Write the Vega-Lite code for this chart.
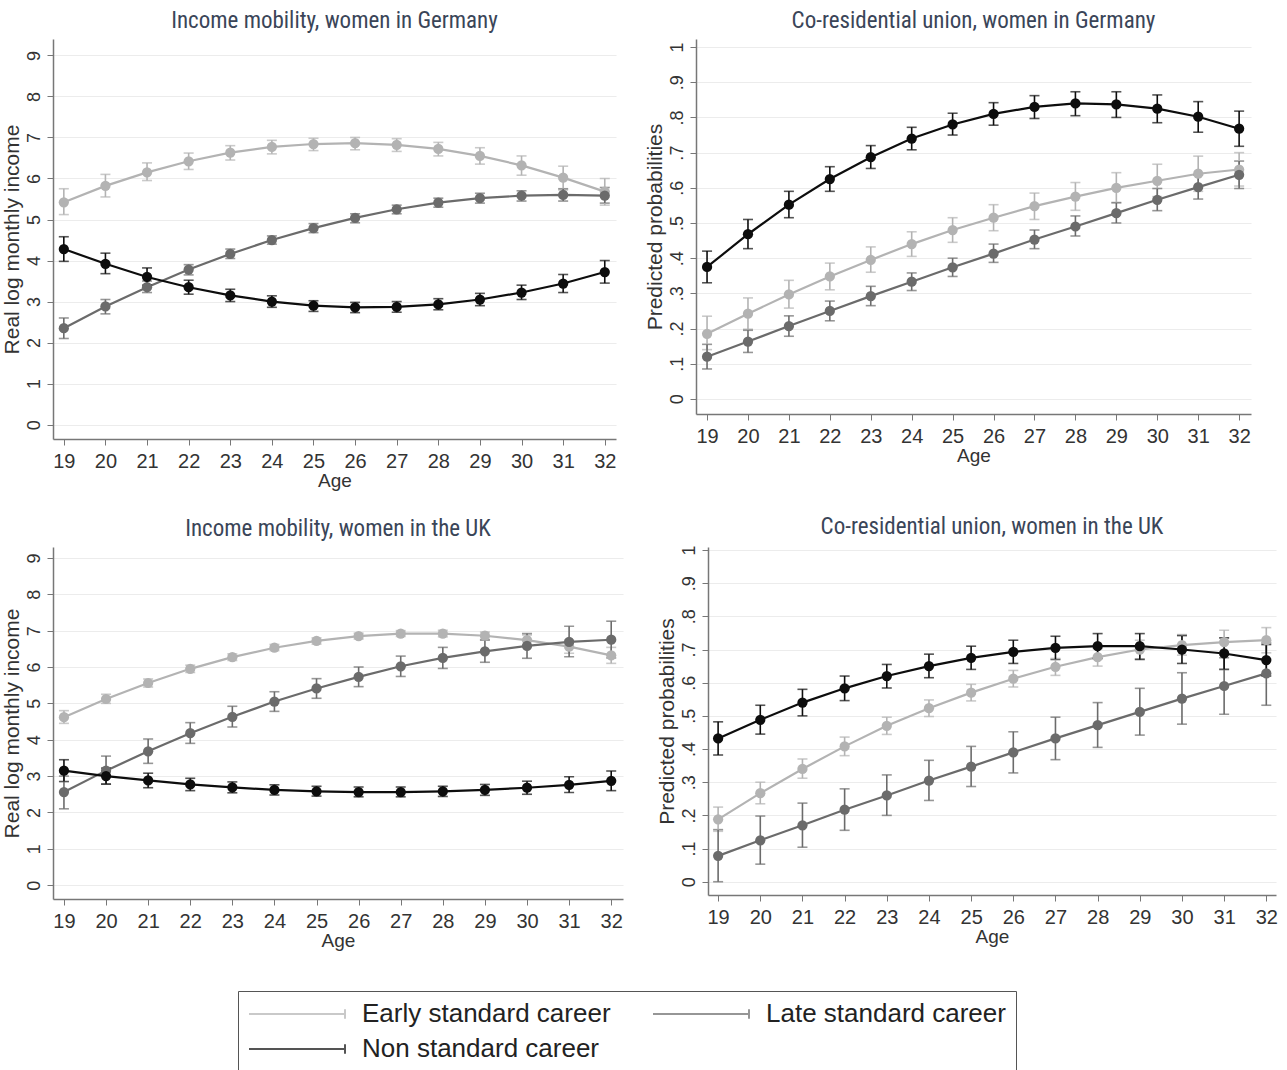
{
  "$schema": "https://vega.github.io/schema/vega-lite/v6.json",
  "padding": {"left": 0, "top": 10, "right": 4, "bottom": 0},
  "background": "white",
  "datasets": {
    "d": [
      {"panel":"GI","career":"Early standard career","age":19,"est":5.42,"lo":5.12,"hi":5.75},
      {"panel":"GI","career":"Early standard career","age":20,"est":5.82,"lo":5.55,"hi":6.1},
      {"panel":"GI","career":"Early standard career","age":21,"est":6.15,"lo":5.95,"hi":6.38},
      {"panel":"GI","career":"Early standard career","age":22,"est":6.42,"lo":6.22,"hi":6.62},
      {"panel":"GI","career":"Early standard career","age":23,"est":6.63,"lo":6.45,"hi":6.8},
      {"panel":"GI","career":"Early standard career","age":24,"est":6.77,"lo":6.6,"hi":6.93},
      {"panel":"GI","career":"Early standard career","age":25,"est":6.84,"lo":6.68,"hi":6.98},
      {"panel":"GI","career":"Early standard career","age":26,"est":6.86,"lo":6.7,"hi":7.0},
      {"panel":"GI","career":"Early standard career","age":27,"est":6.82,"lo":6.66,"hi":6.97},
      {"panel":"GI","career":"Early standard career","age":28,"est":6.72,"lo":6.55,"hi":6.88},
      {"panel":"GI","career":"Early standard career","age":29,"est":6.55,"lo":6.35,"hi":6.75},
      {"panel":"GI","career":"Early standard career","age":30,"est":6.32,"lo":6.08,"hi":6.55},
      {"panel":"GI","career":"Early standard career","age":31,"est":6.02,"lo":5.72,"hi":6.3},
      {"panel":"GI","career":"Early standard career","age":32,"est":5.68,"lo":5.35,"hi":6.0},
      {"panel":"GI","career":"Late standard career","age":19,"est":2.35,"lo":2.1,"hi":2.6},
      {"panel":"GI","career":"Late standard career","age":20,"est":2.88,"lo":2.7,"hi":3.05},
      {"panel":"GI","career":"Late standard career","age":21,"est":3.35,"lo":3.22,"hi":3.5},
      {"panel":"GI","career":"Late standard career","age":22,"est":3.78,"lo":3.65,"hi":3.9},
      {"panel":"GI","career":"Late standard career","age":23,"est":4.16,"lo":4.05,"hi":4.28},
      {"panel":"GI","career":"Late standard career","age":24,"est":4.5,"lo":4.4,"hi":4.6},
      {"panel":"GI","career":"Late standard career","age":25,"est":4.79,"lo":4.68,"hi":4.9},
      {"panel":"GI","career":"Late standard career","age":26,"est":5.04,"lo":4.92,"hi":5.14},
      {"panel":"GI","career":"Late standard career","age":27,"est":5.25,"lo":5.14,"hi":5.35},
      {"panel":"GI","career":"Late standard career","age":28,"est":5.41,"lo":5.3,"hi":5.52},
      {"panel":"GI","career":"Late standard career","age":29,"est":5.52,"lo":5.4,"hi":5.64},
      {"panel":"GI","career":"Late standard career","age":30,"est":5.58,"lo":5.45,"hi":5.7},
      {"panel":"GI","career":"Late standard career","age":31,"est":5.6,"lo":5.45,"hi":5.75},
      {"panel":"GI","career":"Late standard career","age":32,"est":5.58,"lo":5.4,"hi":5.78},
      {"panel":"GI","career":"Non standard career","age":19,"est":4.28,"lo":3.98,"hi":4.58},
      {"panel":"GI","career":"Non standard career","age":20,"est":3.92,"lo":3.68,"hi":4.18},
      {"panel":"GI","career":"Non standard career","age":21,"est":3.6,"lo":3.4,"hi":3.82},
      {"panel":"GI","career":"Non standard career","age":22,"est":3.35,"lo":3.18,"hi":3.52},
      {"panel":"GI","career":"Non standard career","age":23,"est":3.15,"lo":3.0,"hi":3.3},
      {"panel":"GI","career":"Non standard career","age":24,"est":3.0,"lo":2.86,"hi":3.14},
      {"panel":"GI","career":"Non standard career","age":25,"est":2.9,"lo":2.76,"hi":3.02},
      {"panel":"GI","career":"Non standard career","age":26,"est":2.86,"lo":2.73,"hi":2.98},
      {"panel":"GI","career":"Non standard career","age":27,"est":2.87,"lo":2.74,"hi":3.0},
      {"panel":"GI","career":"Non standard career","age":28,"est":2.93,"lo":2.8,"hi":3.07},
      {"panel":"GI","career":"Non standard career","age":29,"est":3.05,"lo":2.9,"hi":3.2},
      {"panel":"GI","career":"Non standard career","age":30,"est":3.22,"lo":3.05,"hi":3.4},
      {"panel":"GI","career":"Non standard career","age":31,"est":3.44,"lo":3.22,"hi":3.66},
      {"panel":"GI","career":"Non standard career","age":32,"est":3.72,"lo":3.45,"hi":4.0},

      {"panel":"GU","career":"Early standard career","age":19,"est":0.185,"lo":0.14,"hi":0.235},
      {"panel":"GU","career":"Early standard career","age":20,"est":0.242,"lo":0.198,"hi":0.287},
      {"panel":"GU","career":"Early standard career","age":21,"est":0.297,"lo":0.258,"hi":0.337},
      {"panel":"GU","career":"Early standard career","age":22,"est":0.348,"lo":0.31,"hi":0.386},
      {"panel":"GU","career":"Early standard career","age":23,"est":0.395,"lo":0.36,"hi":0.432},
      {"panel":"GU","career":"Early standard career","age":24,"est":0.44,"lo":0.405,"hi":0.475},
      {"panel":"GU","career":"Early standard career","age":25,"est":0.48,"lo":0.445,"hi":0.515},
      {"panel":"GU","career":"Early standard career","age":26,"est":0.515,"lo":0.478,"hi":0.552},
      {"panel":"GU","career":"Early standard career","age":27,"est":0.548,"lo":0.51,"hi":0.585},
      {"panel":"GU","career":"Early standard career","age":28,"est":0.575,"lo":0.536,"hi":0.615},
      {"panel":"GU","career":"Early standard career","age":29,"est":0.6,"lo":0.557,"hi":0.643},
      {"panel":"GU","career":"Early standard career","age":30,"est":0.62,"lo":0.575,"hi":0.667},
      {"panel":"GU","career":"Early standard career","age":31,"est":0.64,"lo":0.59,"hi":0.69},
      {"panel":"GU","career":"Early standard career","age":32,"est":0.652,"lo":0.605,"hi":0.7},
      {"panel":"GU","career":"Late standard career","age":19,"est":0.12,"lo":0.085,"hi":0.155},
      {"panel":"GU","career":"Late standard career","age":20,"est":0.163,"lo":0.132,"hi":0.195},
      {"panel":"GU","career":"Late standard career","age":21,"est":0.207,"lo":0.178,"hi":0.236},
      {"panel":"GU","career":"Late standard career","age":22,"est":0.25,"lo":0.222,"hi":0.278},
      {"panel":"GU","career":"Late standard career","age":23,"est":0.292,"lo":0.265,"hi":0.32},
      {"panel":"GU","career":"Late standard career","age":24,"est":0.333,"lo":0.308,"hi":0.358},
      {"panel":"GU","career":"Late standard career","age":25,"est":0.374,"lo":0.348,"hi":0.4},
      {"panel":"GU","career":"Late standard career","age":26,"est":0.413,"lo":0.388,"hi":0.44},
      {"panel":"GU","career":"Late standard career","age":27,"est":0.453,"lo":0.427,"hi":0.48},
      {"panel":"GU","career":"Late standard career","age":28,"est":0.49,"lo":0.463,"hi":0.52},
      {"panel":"GU","career":"Late standard career","age":29,"est":0.528,"lo":0.5,"hi":0.558},
      {"panel":"GU","career":"Late standard career","age":30,"est":0.566,"lo":0.535,"hi":0.598},
      {"panel":"GU","career":"Late standard career","age":31,"est":0.602,"lo":0.568,"hi":0.637},
      {"panel":"GU","career":"Late standard career","age":32,"est":0.637,"lo":0.598,"hi":0.676},
      {"panel":"GU","career":"Non standard career","age":19,"est":0.375,"lo":0.33,"hi":0.42},
      {"panel":"GU","career":"Non standard career","age":20,"est":0.468,"lo":0.427,"hi":0.51},
      {"panel":"GU","career":"Non standard career","age":21,"est":0.552,"lo":0.515,"hi":0.59},
      {"panel":"GU","career":"Non standard career","age":22,"est":0.625,"lo":0.59,"hi":0.66},
      {"panel":"GU","career":"Non standard career","age":23,"est":0.687,"lo":0.655,"hi":0.72},
      {"panel":"GU","career":"Non standard career","age":24,"est":0.74,"lo":0.708,"hi":0.772},
      {"panel":"GU","career":"Non standard career","age":25,"est":0.78,"lo":0.75,"hi":0.812},
      {"panel":"GU","career":"Non standard career","age":26,"est":0.81,"lo":0.778,"hi":0.842},
      {"panel":"GU","career":"Non standard career","age":27,"est":0.83,"lo":0.797,"hi":0.862},
      {"panel":"GU","career":"Non standard career","age":28,"est":0.84,"lo":0.805,"hi":0.873},
      {"panel":"GU","career":"Non standard career","age":29,"est":0.837,"lo":0.8,"hi":0.873},
      {"panel":"GU","career":"Non standard career","age":30,"est":0.825,"lo":0.785,"hi":0.864},
      {"panel":"GU","career":"Non standard career","age":31,"est":0.802,"lo":0.758,"hi":0.845},
      {"panel":"GU","career":"Non standard career","age":32,"est":0.768,"lo":0.718,"hi":0.818},

      {"panel":"KI","career":"Early standard career","age":19,"est":4.62,"lo":4.45,"hi":4.8},
      {"panel":"KI","career":"Early standard career","age":20,"est":5.12,"lo":5.0,"hi":5.25},
      {"panel":"KI","career":"Early standard career","age":21,"est":5.56,"lo":5.45,"hi":5.67},
      {"panel":"KI","career":"Early standard career","age":22,"est":5.95,"lo":5.85,"hi":6.05},
      {"panel":"KI","career":"Early standard career","age":23,"est":6.27,"lo":6.18,"hi":6.36},
      {"panel":"KI","career":"Early standard career","age":24,"est":6.53,"lo":6.45,"hi":6.62},
      {"panel":"KI","career":"Early standard career","age":25,"est":6.72,"lo":6.63,"hi":6.8},
      {"panel":"KI","career":"Early standard career","age":26,"est":6.85,"lo":6.77,"hi":6.93},
      {"panel":"KI","career":"Early standard career","age":27,"est":6.92,"lo":6.84,"hi":7.0},
      {"panel":"KI","career":"Early standard career","age":28,"est":6.92,"lo":6.83,"hi":7.01},
      {"panel":"KI","career":"Early standard career","age":29,"est":6.86,"lo":6.76,"hi":6.96},
      {"panel":"KI","career":"Early standard career","age":30,"est":6.74,"lo":6.6,"hi":6.88},
      {"panel":"KI","career":"Early standard career","age":31,"est":6.56,"lo":6.38,"hi":6.74},
      {"panel":"KI","career":"Early standard career","age":32,"est":6.32,"lo":6.1,"hi":6.54},
      {"panel":"KI","career":"Late standard career","age":19,"est":2.56,"lo":2.1,"hi":3.0},
      {"panel":"KI","career":"Late standard career","age":20,"est":3.15,"lo":2.78,"hi":3.55},
      {"panel":"KI","career":"Late standard career","age":21,"est":3.68,"lo":3.35,"hi":4.02},
      {"panel":"KI","career":"Late standard career","age":22,"est":4.18,"lo":3.9,"hi":4.47},
      {"panel":"KI","career":"Late standard career","age":23,"est":4.63,"lo":4.35,"hi":4.92},
      {"panel":"KI","career":"Late standard career","age":24,"est":5.05,"lo":4.78,"hi":5.32},
      {"panel":"KI","career":"Late standard career","age":25,"est":5.41,"lo":5.14,"hi":5.68},
      {"panel":"KI","career":"Late standard career","age":26,"est":5.73,"lo":5.46,"hi":6.0},
      {"panel":"KI","career":"Late standard career","age":27,"est":6.02,"lo":5.74,"hi":6.3},
      {"panel":"KI","career":"Late standard career","age":28,"est":6.25,"lo":5.96,"hi":6.54},
      {"panel":"KI","career":"Late standard career","age":29,"est":6.43,"lo":6.13,"hi":6.74},
      {"panel":"KI","career":"Late standard career","age":30,"est":6.58,"lo":6.24,"hi":6.92},
      {"panel":"KI","career":"Late standard career","age":31,"est":6.69,"lo":6.28,"hi":7.12},
      {"panel":"KI","career":"Late standard career","age":32,"est":6.75,"lo":6.25,"hi":7.26},
      {"panel":"KI","career":"Non standard career","age":19,"est":3.15,"lo":2.85,"hi":3.45},
      {"panel":"KI","career":"Non standard career","age":20,"est":3.0,"lo":2.78,"hi":3.22},
      {"panel":"KI","career":"Non standard career","age":21,"est":2.88,"lo":2.68,"hi":3.08},
      {"panel":"KI","career":"Non standard career","age":22,"est":2.77,"lo":2.6,"hi":2.94},
      {"panel":"KI","career":"Non standard career","age":23,"est":2.69,"lo":2.54,"hi":2.84},
      {"panel":"KI","career":"Non standard career","age":24,"est":2.62,"lo":2.48,"hi":2.76},
      {"panel":"KI","career":"Non standard career","age":25,"est":2.58,"lo":2.45,"hi":2.72},
      {"panel":"KI","career":"Non standard career","age":26,"est":2.56,"lo":2.43,"hi":2.7},
      {"panel":"KI","career":"Non standard career","age":27,"est":2.56,"lo":2.43,"hi":2.7},
      {"panel":"KI","career":"Non standard career","age":28,"est":2.58,"lo":2.44,"hi":2.72},
      {"panel":"KI","career":"Non standard career","age":29,"est":2.62,"lo":2.47,"hi":2.77},
      {"panel":"KI","career":"Non standard career","age":30,"est":2.68,"lo":2.5,"hi":2.86},
      {"panel":"KI","career":"Non standard career","age":31,"est":2.76,"lo":2.55,"hi":2.98},
      {"panel":"KI","career":"Non standard career","age":32,"est":2.87,"lo":2.6,"hi":3.14},

      {"panel":"KU","career":"Early standard career","age":19,"est":0.188,"lo":0.152,"hi":0.225},
      {"panel":"KU","career":"Early standard career","age":20,"est":0.267,"lo":0.235,"hi":0.3},
      {"panel":"KU","career":"Early standard career","age":21,"est":0.34,"lo":0.312,"hi":0.37},
      {"panel":"KU","career":"Early standard career","age":22,"est":0.408,"lo":0.38,"hi":0.436},
      {"panel":"KU","career":"Early standard career","age":23,"est":0.47,"lo":0.444,"hi":0.496},
      {"panel":"KU","career":"Early standard career","age":24,"est":0.523,"lo":0.498,"hi":0.548},
      {"panel":"KU","career":"Early standard career","age":25,"est":0.57,"lo":0.545,"hi":0.595},
      {"panel":"KU","career":"Early standard career","age":26,"est":0.612,"lo":0.587,"hi":0.637},
      {"panel":"KU","career":"Early standard career","age":27,"est":0.648,"lo":0.622,"hi":0.673},
      {"panel":"KU","career":"Early standard career","age":28,"est":0.677,"lo":0.65,"hi":0.703},
      {"panel":"KU","career":"Early standard career","age":29,"est":0.7,"lo":0.672,"hi":0.728},
      {"panel":"KU","career":"Early standard career","age":30,"est":0.713,"lo":0.683,"hi":0.745},
      {"panel":"KU","career":"Early standard career","age":31,"est":0.722,"lo":0.688,"hi":0.758},
      {"panel":"KU","career":"Early standard career","age":32,"est":0.728,"lo":0.69,"hi":0.766},
      {"panel":"KU","career":"Late standard career","age":19,"est":0.078,"lo":0.0,"hi":0.157},
      {"panel":"KU","career":"Late standard career","age":20,"est":0.125,"lo":0.053,"hi":0.198},
      {"panel":"KU","career":"Late standard career","age":21,"est":0.17,"lo":0.104,"hi":0.237},
      {"panel":"KU","career":"Late standard career","age":22,"est":0.217,"lo":0.155,"hi":0.28},
      {"panel":"KU","career":"Late standard career","age":23,"est":0.26,"lo":0.2,"hi":0.322},
      {"panel":"KU","career":"Late standard career","age":24,"est":0.305,"lo":0.245,"hi":0.366},
      {"panel":"KU","career":"Late standard career","age":25,"est":0.347,"lo":0.287,"hi":0.408},
      {"panel":"KU","career":"Late standard career","age":26,"est":0.39,"lo":0.328,"hi":0.452},
      {"panel":"KU","career":"Late standard career","age":27,"est":0.432,"lo":0.368,"hi":0.496},
      {"panel":"KU","career":"Late standard career","age":28,"est":0.472,"lo":0.405,"hi":0.54},
      {"panel":"KU","career":"Late standard career","age":29,"est":0.512,"lo":0.442,"hi":0.583},
      {"panel":"KU","career":"Late standard career","age":30,"est":0.552,"lo":0.475,"hi":0.63},
      {"panel":"KU","career":"Late standard career","age":31,"est":0.59,"lo":0.505,"hi":0.675},
      {"panel":"KU","career":"Late standard career","age":32,"est":0.628,"lo":0.532,"hi":0.72},
      {"panel":"KU","career":"Non standard career","age":19,"est":0.432,"lo":0.382,"hi":0.482},
      {"panel":"KU","career":"Non standard career","age":20,"est":0.488,"lo":0.445,"hi":0.532},
      {"panel":"KU","career":"Non standard career","age":21,"est":0.54,"lo":0.5,"hi":0.58},
      {"panel":"KU","career":"Non standard career","age":22,"est":0.583,"lo":0.546,"hi":0.62},
      {"panel":"KU","career":"Non standard career","age":23,"est":0.62,"lo":0.584,"hi":0.655},
      {"panel":"KU","career":"Non standard career","age":24,"est":0.65,"lo":0.615,"hi":0.686},
      {"panel":"KU","career":"Non standard career","age":25,"est":0.675,"lo":0.64,"hi":0.71},
      {"panel":"KU","career":"Non standard career","age":26,"est":0.693,"lo":0.658,"hi":0.728},
      {"panel":"KU","career":"Non standard career","age":27,"est":0.705,"lo":0.67,"hi":0.74},
      {"panel":"KU","career":"Non standard career","age":28,"est":0.71,"lo":0.673,"hi":0.748},
      {"panel":"KU","career":"Non standard career","age":29,"est":0.71,"lo":0.67,"hi":0.748},
      {"panel":"KU","career":"Non standard career","age":30,"est":0.7,"lo":0.658,"hi":0.742},
      {"panel":"KU","career":"Non standard career","age":31,"est":0.688,"lo":0.64,"hi":0.735},
      {"panel":"KU","career":"Non standard career","age":32,"est":0.668,"lo":0.62,"hi":0.715}
    ]
  },
  "data": {"name": "d"},
  "spacing": 25,
  "vconcat": [
    {
      "spacing": 28,
      "hconcat": [
        {
          "width": 563, "height": 400,
          "title": "Income mobility, women in Germany",
          "transform": [{"filter": "datum.panel == 'GI'"}],
          "encoding": {
            "x": {"field": "age", "type": "quantitative", "title": "Age", "scale": {"domain": [18.74, 32.27], "nice": false, "zero": false}, "axis": {"values": [19,20,21,22,23,24,25,26,27,28,29,30,31,32], "tickCount": 30, "format": "d"}},
            "color": {"field": "career", "type": "nominal", "scale": {"domain": ["Early standard career", "Late standard career", "Non standard career"], "range": ["#b3b3b3", "#6b6b6b", "#0d0d0d"]}}
          },
          "layer": [
            {"mark": {"type": "line", "strokeWidth": 2.2}, "encoding": {"y": {"field": "est", "type": "quantitative", "title": "Real log monthly income", "scale": {"domain": [-0.35, 9.4], "nice": false, "zero": false}, "axis": {"values": [0,1,2,3,4,5,6,7,8,9], "tickCount": 30, "format": "d", "labelOverlap": false}}}},
            {"mark": {"type": "errorbar", "ticks": {"size": 10}, "thickness": 1.6}, "encoding": {"y": {"field": "lo", "type": "quantitative", "title": "Real log monthly income"}, "y2": {"field": "hi"}}},
            {"mark": {"type": "point", "filled": true, "size": 105, "opacity": 1}, "encoding": {"y": {"field": "est", "type": "quantitative", "title": "Real log monthly income"}}}
          ]
        },
        {
          "width": 555, "height": 375,
          "title": "Co-residential union, women in Germany",
          "transform": [{"filter": "datum.panel == 'GU'"}],
          "encoding": {
            "x": {"field": "age", "type": "quantitative", "title": "Age", "scale": {"domain": [18.73, 32.29], "nice": false, "zero": false}, "axis": {"values": [19,20,21,22,23,24,25,26,27,28,29,30,31,32], "tickCount": 30, "format": "d"}},
            "color": {"field": "career", "type": "nominal", "scale": {"domain": ["Early standard career", "Late standard career", "Non standard career"], "range": ["#b3b3b3", "#6b6b6b", "#0d0d0d"]}}
          },
          "layer": [
            {"mark": {"type": "line", "strokeWidth": 2.2}, "encoding": {"y": {"field": "est", "type": "quantitative", "title": "Predicted probabilities", "scale": {"domain": [-0.043, 1.023], "nice": false, "zero": false}, "axis": {"values": [0,0.1,0.2,0.3,0.4,0.5,0.6,0.7,0.8,0.9,1], "tickCount": 30, "labelOverlap": false, "labelExpr": "datum.value == 0 ? '0' : datum.value == 1 ? '1' : replace(format(datum.value, '.1f'), '0.', '.')"}}}},
            {"mark": {"type": "errorbar", "ticks": {"size": 10}, "thickness": 1.6}, "encoding": {"y": {"field": "lo", "type": "quantitative", "title": "Predicted probabilities"}, "y2": {"field": "hi"}}},
            {"mark": {"type": "point", "filled": true, "size": 105, "opacity": 1}, "encoding": {"y": {"field": "est", "type": "quantitative", "title": "Predicted probabilities"}}}
          ]
        }
      ]
    },
    {
      "spacing": 33,
      "hconcat": [
        {
          "width": 570, "height": 352,
          "title": "Income mobility, women in the UK",
          "transform": [{"filter": "datum.panel == 'KI'"}],
          "encoding": {
            "x": {"field": "age", "type": "quantitative", "title": "Age", "scale": {"domain": [18.74, 32.28], "nice": false, "zero": false}, "axis": {"values": [19,20,21,22,23,24,25,26,27,28,29,30,31,32], "tickCount": 30, "format": "d"}},
            "color": {"field": "career", "type": "nominal", "scale": {"domain": ["Early standard career", "Late standard career", "Non standard career"], "range": ["#b3b3b3", "#6b6b6b", "#0d0d0d"]}}
          },
          "layer": [
            {"mark": {"type": "line", "strokeWidth": 2.2}, "encoding": {"y": {"field": "est", "type": "quantitative", "title": "Real log monthly income", "scale": {"domain": [-0.38, 9.3], "nice": false, "zero": false}, "axis": {"values": [0,1,2,3,4,5,6,7,8,9], "tickCount": 30, "format": "d", "labelOverlap": false}}}},
            {"mark": {"type": "errorbar", "ticks": {"size": 10}, "thickness": 1.6}, "encoding": {"y": {"field": "lo", "type": "quantitative", "title": "Real log monthly income"}, "y2": {"field": "hi"}}},
            {"mark": {"type": "point", "filled": true, "size": 105, "opacity": 1}, "encoding": {"y": {"field": "est", "type": "quantitative", "title": "Real log monthly income"}}}
          ]
        },
        {
          "width": 568, "height": 348,
          "title": "Co-residential union, women in the UK",
          "transform": [{"filter": "datum.panel == 'KU'"}],
          "encoding": {
            "x": {"field": "age", "type": "quantitative", "title": "Age", "scale": {"domain": [18.76, 32.23], "nice": false, "zero": false}, "axis": {"values": [19,20,21,22,23,24,25,26,27,28,29,30,31,32], "tickCount": 30, "format": "d"}},
            "color": {"field": "career", "type": "nominal", "scale": {"domain": ["Early standard career", "Late standard career", "Non standard career"], "range": ["#b3b3b3", "#6b6b6b", "#0d0d0d"]}}
          },
          "layer": [
            {"mark": {"type": "line", "strokeWidth": 2.2}, "encoding": {"y": {"field": "est", "type": "quantitative", "title": "Predicted probabilities", "scale": {"domain": [-0.04, 1.009], "nice": false, "zero": false}, "axis": {"values": [0,0.1,0.2,0.3,0.4,0.5,0.6,0.7,0.8,0.9,1], "tickCount": 30, "labelOverlap": false, "labelExpr": "datum.value == 0 ? '0' : datum.value == 1 ? '1' : replace(format(datum.value, '.1f'), '0.', '.')"}}}},
            {"mark": {"type": "errorbar", "ticks": {"size": 10}, "thickness": 1.6}, "encoding": {"y": {"field": "lo", "type": "quantitative", "title": "Predicted probabilities"}, "y2": {"field": "hi"}}},
            {"mark": {"type": "point", "filled": true, "size": 105, "opacity": 1}, "encoding": {"y": {"field": "est", "type": "quantitative", "title": "Predicted probabilities"}}}
          ]
        }
      ]
    }
  ],
  "config": {
    "view": {"stroke": null},
    "title": {"font": "Liberation Sans Narrow, Roboto Condensed, Liberation Sans", "fontSize": 23, "fontWeight": "normal", "color": "#3a4558", "offset": 6},
    "axis": {
      "domainColor": "#777777", "domainWidth": 1.5, "tickColor": "#777777", "tickSize": 6,
      "labelFont": "Liberation Sans Narrow, Liberation Sans", "labelColor": "#333333", "labelOverlap": false,
      "titleFont": "Liberation Sans Narrow, Liberation Sans", "titleColor": "#333333", "titleFontWeight": "normal"
    },
    "axisX": {"grid": false, "labelFontSize": 20, "titleFontSize": 19, "titlePadding": 0, "labelPadding": 6},
    "axisY": {"grid": true, "gridColor": "#ececec", "gridWidth": 1.2, "labelAngle": -90, "labelAlign": "center", "labelBaseline": "bottom", "labelFontSize": 18, "labelPadding": 4, "titleFont": "Liberation Sans", "titleFontSize": 21, "titlePadding": 3},
    "legend": {
      "orient": "none", "legendX": 185, "legendY": 952,
      "title": null, "columns": 2, "direction": "horizontal",
      "symbolType": "M-1,0L7,0M7,-0.4L7,0.4",
      "symbolSize": 576, "symbolStrokeWidth": 2, "symbolFillColor": "transparent",
      "labelFont": "Liberation Sans", "labelFontSize": 26, "labelColor": "#222222", "labelOffset": 88, "labelLimit": 400,
      "columnPadding": 38, "rowPadding": 9,
      "strokeColor": "#555555", "padding": 10
    }
  }
}
